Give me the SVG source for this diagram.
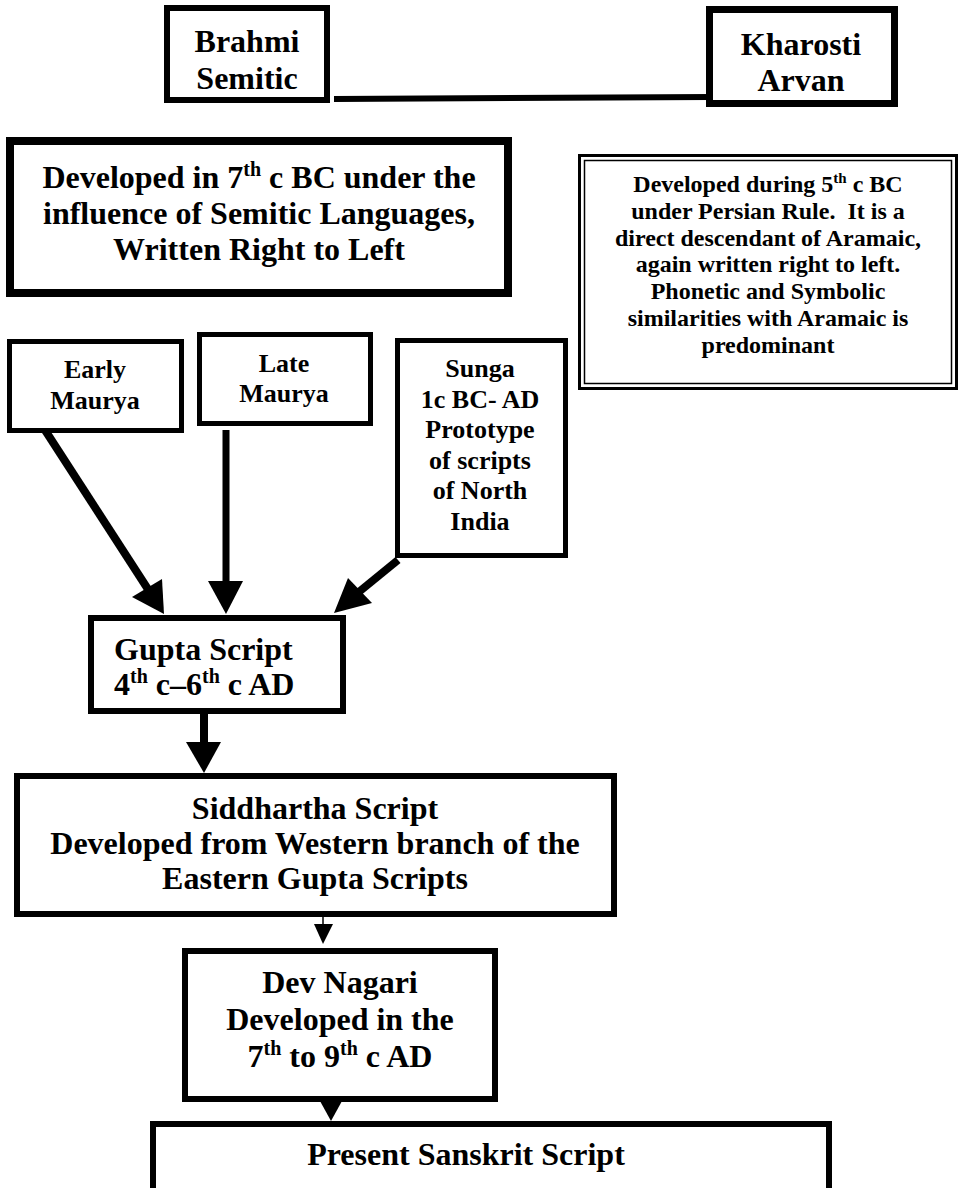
<svg xmlns="http://www.w3.org/2000/svg" width="963" height="1188" viewBox="0 0 963 1188">
<defs>
<style>
.t{font-family:"Liberation Serif","Times New Roman",serif;font-weight:bold;fill:#000;text-anchor:middle}
.l{text-anchor:start}
.box{fill:#fff;stroke:#000}
.ln{stroke:#000;fill:none}
.ah{fill:#000}
</style>
</defs>
<rect width="963" height="1188" fill="#fff"/>
<g id="connectors">
<line class="ln" x1="334" y1="99" x2="712" y2="97" stroke-width="6"/>
<line class="ln" x1="43" y1="427" x2="153" y2="597" stroke-width="8"/>
<polygon class="ah" points="164,614 132,597 162,579"/>
<line class="ln" x1="226" y1="430" x2="226" y2="594" stroke-width="7"/>
<polygon class="ah" points="226,614 208,581 243,581"/>
<line class="ln" x1="398" y1="560" x2="349" y2="600" stroke-width="8"/>
<polygon class="ah" points="334,613 348,578 372,603"/>
<line class="ln" x1="204" y1="714" x2="204" y2="753" stroke-width="8"/>
<polygon class="ah" points="204,773 186,742 221,742"/>
<line class="ln" x1="323" y1="917" x2="323" y2="930" stroke-width="1.5"/>
<polygon class="ah" points="323,944 314,924 333,924"/>
<polygon class="ah" points="320,1101 342,1101 331,1121"/>
</g>
<g id="brahmi">
<rect class="box" x="167" y="8" width="160" height="92" stroke-width="6"/>
<text class="t" font-size="32"><tspan x="247" y="52">Brahmi</tspan><tspan x="247" y="89">Semitic</tspan></text>
</g>
<g id="kharosti">
<rect class="box" x="709.5" y="9.5" width="185" height="94" stroke-width="7"/>
<text class="t" font-size="32"><tspan x="801" y="55">Kharosti</tspan><tspan x="801" y="91">Arvan</tspan></text>
</g>
<g id="brahmi-desc">
<rect class="box" x="10" y="141" width="498" height="152" stroke-width="8"/>
<text class="t" font-size="32" x="259" y="188">Developed in 7<tspan font-size="20" dy="-12">th</tspan><tspan dy="12"> c BC under the</tspan></text>
<text class="t" font-size="32" x="259" y="224">influence of Semitic Languages,</text>
<text class="t" font-size="32" x="259" y="260">Written Right to Left</text>
</g>
<g id="kharosti-desc">
<rect class="box" x="579.5" y="155.5" width="377" height="233" stroke-width="3"/>
<rect class="box" x="584.5" y="160.5" width="367" height="223" stroke-width="1.5"/>
<text class="t" font-size="24" x="768" y="192">Developed during 5<tspan font-size="15" dy="-9">th</tspan><tspan dy="9"> c BC</tspan></text>
<text class="t" font-size="24" x="768" y="219" xml:space="preserve">under Persian Rule.  It is a</text>
<text class="t" font-size="24" x="768" y="246">direct descendant of Aramaic,</text>
<text class="t" font-size="24" x="768" y="272">again written right to left.</text>
<text class="t" font-size="24" x="768" y="299">Phonetic and Symbolic</text>
<text class="t" font-size="24" x="768" y="326">similarities with Aramaic is</text>
<text class="t" font-size="24" x="768" y="353">predominant</text>
</g>
<g id="early-maurya">
<rect class="box" x="9.5" y="341.5" width="172" height="89" stroke-width="5"/>
<text class="t" font-size="26"><tspan x="95" y="378">Early</tspan><tspan x="95" y="409">Maurya</tspan></text>
</g>
<g id="late-maurya">
<rect class="box" x="199.5" y="334.5" width="171" height="89" stroke-width="5"/>
<text class="t" font-size="26"><tspan x="284" y="372">Late</tspan><tspan x="284" y="402">Maurya</tspan></text>
</g>
<g id="sunga">
<rect class="box" x="397.5" y="340.5" width="168" height="215" stroke-width="5"/>
<text class="t" font-size="26"><tspan x="480" y="377">Sunga</tspan><tspan x="480" y="408">1c BC- AD</tspan><tspan x="480" y="438">Prototype</tspan><tspan x="480" y="469">of scripts</tspan><tspan x="480" y="499">of North</tspan><tspan x="480" y="530">India</tspan></text>
</g>
<g id="gupta">
<rect class="box" x="91" y="618" width="252" height="93" stroke-width="6"/>
<text class="t l" font-size="32" x="114" y="660">Gupta Script</text>
<text class="t l" font-size="32" x="114" y="695">4<tspan font-size="20" dy="-12">th</tspan><tspan dy="12"> c–6</tspan><tspan font-size="20" dy="-12">th</tspan><tspan dy="12"> c AD</tspan></text>
</g>
<g id="siddhartha">
<rect class="box" x="17" y="776" width="597" height="138" stroke-width="6"/>
<text class="t" font-size="32"><tspan x="315" y="819">Siddhartha Script</tspan><tspan x="315" y="854">Developed from Western branch of the</tspan><tspan x="315" y="889">Eastern Gupta Scripts</tspan></text>
</g>
<g id="devnagari">
<rect class="box" x="185" y="951" width="310" height="148" stroke-width="6"/>
<text class="t" font-size="32" x="340" y="993">Dev Nagari</text>
<text class="t" font-size="32" x="340" y="1030">Developed in the</text>
<text class="t" font-size="32" x="340" y="1067">7<tspan font-size="20" dy="-12">th</tspan><tspan dy="12"> to 9</tspan><tspan font-size="20" dy="-12">th</tspan><tspan dy="12"> c AD</tspan></text>
</g>
<g id="present">
<rect class="box" x="153" y="1124" width="676" height="100" stroke-width="6"/>
<text class="t" font-size="32" x="466" y="1165">Present Sanskrit Script</text>
</g>
</svg>
